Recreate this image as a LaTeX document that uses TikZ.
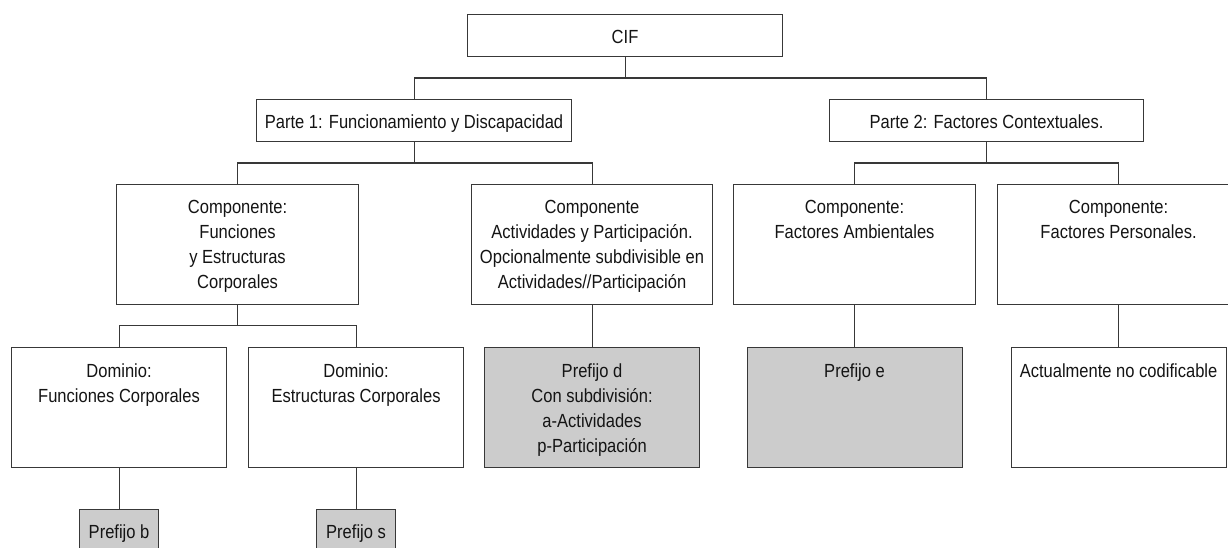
\documentclass[tikz,border=0pt]{standalone}
\usepackage{fontspec}
\setmainfont{Liberation Sans}[FakeStretch=0.87]
\newcommand{\fl}{\rule{0pt}{18pt}}
\begin{document}
\begin{tikzpicture}[x=1pt,y=-1pt,
  box/.style={draw=black!78, line width=1.1pt, inner sep=0pt, anchor=north west},
  grey/.style={fill=black!20},
  tx/.style={anchor=north, align=center, inner sep=0pt, font=\fontsize{19}{25}\selectfont, text=black!92},
  ln/.style={draw=black!78, line width=1.1pt}]
\useasboundingbox (0,0) rectangle (1228,548);
\clip (0,0) rectangle (1228,548);
% boxes
\node[box, minimum width=315, minimum height=42] (cif) at (467,14) {};
\node[box, minimum width=315, minimum height=42] (p1) at (256,99) {};
\node[box, minimum width=314, minimum height=42] (p2) at (829,99) {};
\node[box, minimum width=242, minimum height=120] (cf) at (116,184) {};
\node[box, minimum width=241, minimum height=120] (ca) at (471,184) {};
\node[box, minimum width=242, minimum height=120] (cam) at (733,184) {};
\node[box, minimum width=242, minimum height=120] (cp) at (997,184) {};
\node[box, minimum width=215, minimum height=120] (df) at (11,347) {};
\node[box, minimum width=215, minimum height=120] (de) at (248,347) {};
\node[box, grey, minimum width=215, minimum height=120] (pd) at (484,347) {};
\node[box, grey, minimum width=215, minimum height=120] (pe) at (746.5,347) {};
\node[box, minimum width=215, minimum height=120] (pa) at (1010.5,347) {};
\node[box, grey, minimum width=79, minimum height=44] (pb) at (79,509) {};
\node[box, grey, minimum width=79, minimum height=44] (ps) at (316,509) {};
% connectors
\draw[ln] (p1.north) -- ++(0,-21) coordinate (j1) -| (p2.north);
\draw[ln] (cif.south) -- (cif.south |- j1);
\draw[ln] (cf.north) -- ++(0,-21) coordinate (j2) -| (ca.north);
\draw[ln] (p1.south) -- (p1.south |- j2);
\draw[ln] (cam.north) -- ++(0,-21) coordinate (j3) -| (cp.north);
\draw[ln] (p2.south) -- (p2.south |- j3);
\draw[ln] (df.north) -- ++(0,-21.5) coordinate (j4) -| (de.north);
\draw[ln] (cf.south) -- (cf.south |- j4);
\draw[ln] (ca.south) -- (pd.north);
\draw[ln] (cam.south) -- (pe.north);
\draw[ln] (cp.south) -- (pa.north);
\draw[ln] (df.south) -- (pb.north);
\draw[ln] (de.south) -- (ps.north);
% texts (first baseline about 29pt below each box top)
\node[tx] (cif-t) at ([yshift=-11pt]cif.north) {\fl CIF};
\node[tx] (p1-t) at ([yshift=-11.5pt]p1.north) {\fl Parte 1: Funcionamiento y Discapacidad};
\node[tx] (p2-t) at ([yshift=-11.5pt]p2.north) {\fl Parte 2: Factores Contextuales.};
\node[tx] (cf-t) at ([yshift=-11pt]cf.north) {\fl Componente:\\Funciones\\y Estructuras\\Corporales};
\node[tx] (ca-t) at ([yshift=-11pt]ca.north) {\fl Componente\\Actividades y Participación.\\Opcionalmente subdivisible en\\Actividades//Participación};
\node[tx] (cam-t) at ([yshift=-11pt]cam.north) {\fl Componente:\\Factores Ambientales};
\node[tx] (cp-t) at ([yshift=-11pt]cp.north) {\fl Componente:\\Factores Personales.};
\node[tx] (df-t) at ([yshift=-12pt]df.north) {\fl Dominio:\\Funciones Corporales};
\node[tx] (de-t) at ([yshift=-12pt]de.north) {\fl Dominio:\\Estructuras Corporales};
\node[tx] (pd-t) at ([yshift=-12pt]pd.north) {\fl Prefijo d\\Con subdivisión:\\a-Actividades\\p-Participación};
\node[tx] (pe-t) at ([yshift=-12pt]pe.north) {\fl Prefijo e};
\node[tx] (pa-t) at ([yshift=-12pt]pa.north) {\fl Actualmente no codificable};
\node[tx] (pb-t) at ([yshift=-11pt]pb.north) {\fl Prefijo b};
\node[tx] (ps-t) at ([yshift=-11pt]ps.north) {\fl Prefijo s};
\end{tikzpicture}
\end{document}
